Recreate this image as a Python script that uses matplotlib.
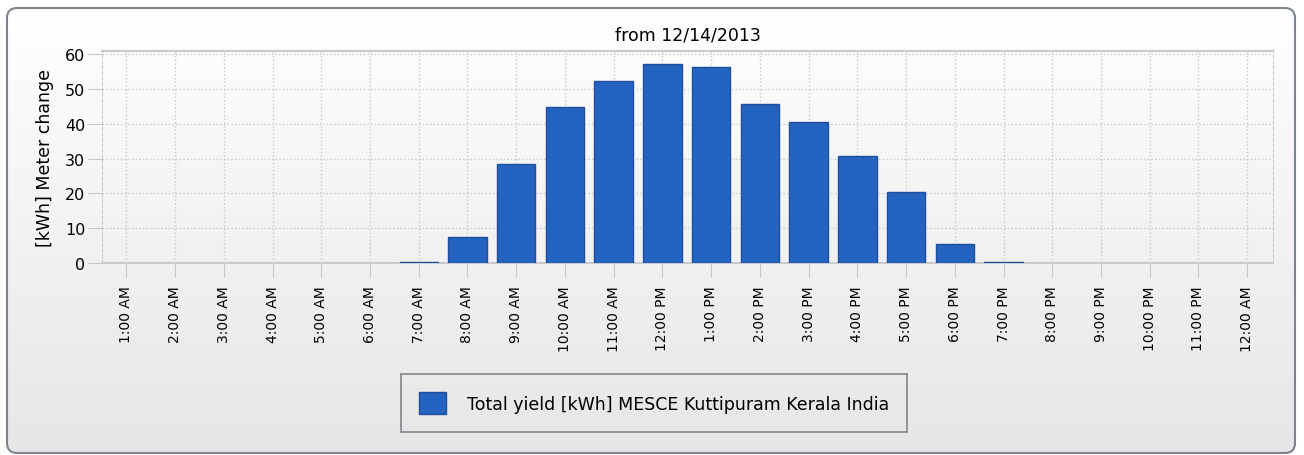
import numpy as np
import matplotlib.pyplot as plt
from matplotlib.patches import FancyBboxPatch, Patch

# Hourly data
hours = ['1:00 AM', '2:00 AM', '3:00 AM', '4:00 AM', '5:00 AM', '6:00 AM',
         '7:00 AM', '8:00 AM', '9:00 AM', '10:00 AM', '11:00 AM', '12:00 PM',
         '1:00 PM', '2:00 PM', '3:00 PM', '4:00 PM', '5:00 PM', '6:00 PM',
         '7:00 PM', '8:00 PM', '9:00 PM', '10:00 PM', '11:00 PM', '12:00 AM']
yield_kwh = [0, 0, 0, 0, 0, 0,
             0.3, 7.5, 28.6, 45.0, 52.3, 57.4,
             56.5, 45.7, 40.5, 30.7, 20.4, 5.5,
             0.2, 0, 0, 0, 0, 0]

title = "from 12/14/2013"
ylabel = "[kWh] Meter change"
series_name = "Total yield [kWh] MESCE Kuttipuram Kerala India"

bar_color = '#2563c0'
edge_color = '#1f4f9c'
grid_color = '#c4c8cc'

fig = plt.figure(figsize=(13.04, 4.56), dpi=100)
fig.patch.set_facecolor('white')

# background panel with vertical gradient and rounded border
bg = fig.add_axes([0, 0, 1, 1], zorder=-10)
bg.set_xlim(0, 1304)
bg.set_ylim(456, 0)
bg.axis('off')
grad = np.linspace(0, 1, 256).reshape(-1, 1)
img = bg.imshow(grad, cmap=plt.matplotlib.colors.LinearSegmentedColormap.from_list(
    'g', ['#ffffff', '#e6e6e6']), extent=[7, 1295, 454, 9], aspect='auto')
frame = FancyBboxPatch((7, 9), 1288, 445, boxstyle='round,pad=0,rounding_size=10',
                       facecolor='none', edgecolor='#7d848c', linewidth=1.5)
bg.add_patch(frame)
img.set_clip_path(frame)

# plot area
ax = fig.add_axes([102 / 1304, 1 - 264 / 456, (1273 - 102) / 1304, (264 - 52) / 456])
ax.set_facecolor('none')
x = np.arange(len(hours))
bars = ax.bar(x, yield_kwh, width=0.79, color=bar_color, edgecolor=edge_color,
              linewidth=1.0, zorder=3)
for b, v in zip(bars, yield_kwh):
    if v == 0:
        b.set_visible(False)

ax.set_xlim(-0.5, len(hours) - 0.47)
ax.set_ylim(0, 61)
ax.set_yticks(range(0, 61, 10))
ax.set_xticks(x)
ax.set_xticklabels(hours, rotation=90, fontsize=10)
ax.tick_params(axis='y', labelsize=11.5, length=10, color=grid_color, pad=2)
ax.tick_params(axis='x', length=10, color=grid_color, pad=6)
ax.grid(True, linestyle=':', color=grid_color, linewidth=1.0, zorder=0)

for side in ['top', 'bottom']:
    ax.spines[side].set_color('#c8ccd0')
    ax.spines[side].set_linewidth(1.5)
for side in ['left', 'right']:
    ax.spines[side].set_color('#c8ccd0')
    ax.spines[side].set_linestyle((0, (3, 2)))

ax.set_title(title, fontsize=12.5, pad=8)
ax.set_ylabel(ylabel, fontsize=12.5, labelpad=8)

fig.legend(handles=[Patch(facecolor=bar_color, edgecolor=edge_color, label=series_name)],
           loc='center', bbox_to_anchor=(654 / 1304, 1 - 404 / 456), fontsize=12.5,
           frameon=True, fancybox=False, edgecolor='#6f767e', facecolor='none',
           handlelength=1.6, handleheight=1.6, borderpad=1.0, handletextpad=1.2,
           borderaxespad=0)
fig.legends[0].get_frame().set_linewidth(1.3)
fig.legends[0]._legend_box.sep = 0
fig.legends[0]._legend_handle_box.pad = 0

fig.savefig('out.png', dpi=100)
